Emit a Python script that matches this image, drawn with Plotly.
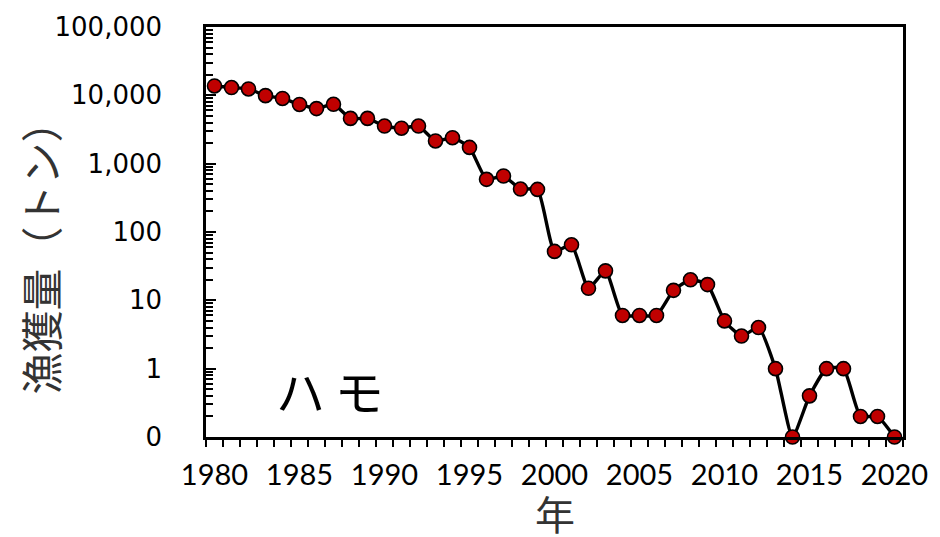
import plotly.graph_objects as go

years = list(range(1980, 2021))
catch_tons = [13700, 13000, 12400, 9900, 9000, 7350, 6400, 7400, 4600, 4600,
              3550, 3300, 3550, 2150, 2400, 1730, 590, 660, 425, 420,
              52, 65, 15, 27, 6, 6, 6, 14, 20, 17,
              5, 3, 4, 1, 0.1, 0.4, 1, 1, 0.2, 0.2, 0.1]
ytick_vals = [0.1, 1, 10, 100, 1000, 10000, 100000]
ytick_text = ["0", "1", "10", "100", "1,000", "10,000", "100,000"]
xtick_vals = list(range(1980, 2021, 5))

fig = go.Figure()
fig.add_trace(go.Scatter(
    x=years, y=catch_tons, mode="lines+markers",
    line=dict(color="black", width=3.4, shape="spline", smoothing=0.5),
    marker=dict(size=14, color="#C00000", line=dict(color="black", width=1.6)),
    showlegend=False, cliponaxis=False,
))

fig.update_layout(
    width=940, height=537,
    margin=dict(l=206, r=28, t=24, b=100),
    paper_bgcolor="white", plot_bgcolor="white",
    xaxis=dict(
        range=[1979.5, 2020.5], tickmode="array", tickvals=xtick_vals,
        ticks="", showgrid=False, zeroline=False,
        showline=True, linecolor="black", linewidth=2.5, mirror=True,
        tickfont=dict(family="Lato", size=29, color="black"),
        ticklabelstandoff=10,
        minor=dict(ticks="outside", tick0=1979.5, dtick=1, ticklen=7,
                   tickcolor="black", tickwidth=1.5, showgrid=False),
    ),
    yaxis=dict(
        type="log", range=[-1, 5], tickmode="array",
        tickvals=ytick_vals, ticktext=ytick_text,
        ticks="inside", ticklen=10, tickwidth=1.5, tickcolor="black",
        showgrid=False, zeroline=False,
        showline=True, linecolor="black", linewidth=2.5, mirror=True,
        tickfont=dict(family="DejaVu Sans", size=26, color="black"),
        ticklabelstandoff=36,
        minor=dict(ticks="inside", dtick="D1", ticklen=7,
                   tickcolor="black", tickwidth=1.5, showgrid=False),
    ),
    annotations=[
        dict(text="ハ\u2009モ", xref="paper", yref="paper", x=(332-206)/706, y=(437-389)/413,
             showarrow=False, font=dict(family="Noto Sans CJK JP", size=49, color="black"),
             xanchor="center", yanchor="middle"),
        dict(text="漁獲量（トン）", xref="paper", yref="paper", x=(37-206)/706, y=(437-246)/413,
             showarrow=False, textangle=-90,
             font=dict(family="Noto Sans CJK JP", size=42, color="#333"),
             xanchor="center", yanchor="middle"),
        dict(text="年", xref="paper", yref="paper", x=(559-206)/706, y=(437-514)/413,
             showarrow=False, font=dict(family="Noto Sans CJK JP", size=40, color="#333"),
             xanchor="center", yanchor="middle"),
    ],
)

fig.write_html("out.html", config={"displayModeBar": False},
               post_script="document.body.style.margin='0';document.body.style.padding='0';")
